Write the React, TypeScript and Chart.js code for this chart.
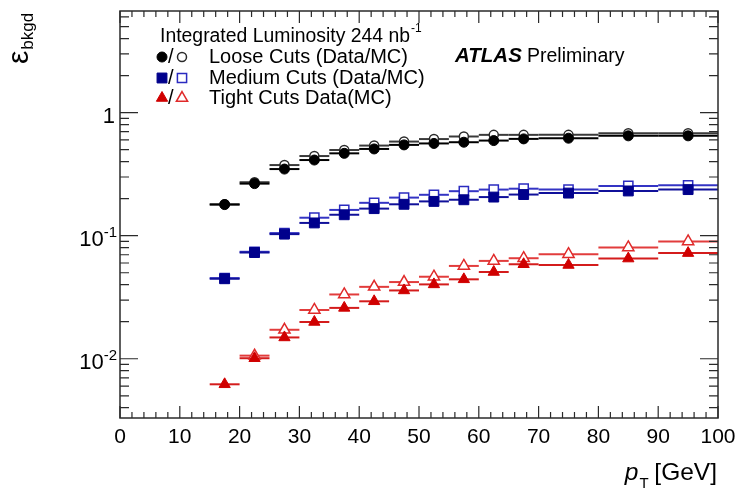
import React, { useEffect, useRef } from "react";
import { Chart, registerables } from "chart.js";

Chart.register(...registerables);

// ---- data ----
const binLow = [15, 20, 25, 30, 35, 40, 45, 50, 55, 60, 65, 70, 80, 90];
const binHigh = [20, 25, 30, 35, 40, 45, 50, 55, 60, 65, 70, 80, 90, 100];
const binCenter = [17.5, 22.5, 27.5, 32.5, 37.5, 42.5, 47.5, 52.5, 57.5, 62.5, 67.5, 75, 85, 95];

const looseData = [0.179, 0.265, 0.348, 0.412, 0.467, 0.507, 0.547, 0.562, 0.575, 0.593, 0.612, 0.62, 0.648, 0.648];
const looseMC = [0.18, 0.272, 0.375, 0.444, 0.497, 0.54, 0.582, 0.61, 0.64, 0.66, 0.66, 0.66, 0.68, 0.68];
const mediumData = [0.0447, 0.073, 0.103, 0.127, 0.148, 0.166, 0.18, 0.19, 0.196, 0.206, 0.216, 0.222, 0.231, 0.237];
const mediumMC = [0.0452, 0.074, 0.105, 0.14, 0.162, 0.185, 0.204, 0.215, 0.23, 0.237, 0.241, 0.237, 0.254, 0.257];
const tightData = [0.0062, 0.0101, 0.0149, 0.0199, 0.0259, 0.0293, 0.0359, 0.0402, 0.0442, 0.0507, 0.0586, 0.0578, 0.0652, 0.0722];
const tightMC = [null, 0.0106, 0.0172, 0.0249, 0.0333, 0.0384, 0.042, 0.0464, 0.0568, 0.0624, 0.0656, 0.0708, 0.0802, 0.0898];

const xMajorTicks = [0, 10, 20, 30, 40, 50, 60, 70, 80, 90, 100];
const xTickLabels = ["0", "10", "20", "30", "40", "50", "60", "70", "80", "90", "100"];
const yMajorTicks = [1, 0.1, 0.01];
const yTickBase = ["1", "10", "10"];
const yTickExp = ["", "-1", "-2"];

const lumiText = "Integrated Luminosity 244 nb";
const lumiExp = "-1";
const legendLabels = ["Loose Cuts (Data/MC)", "Medium Cuts (Data/MC)", "Tight Cuts Data(MC)"];
const atlasText = "ATLAS";
const prelimText = "Preliminary";
const xTitleMain = "p";
const xTitleSub = "T";
const xTitleUnit = " [GeV]";
const yTitleMain = "ε";
const yTitleSub = "bkgd";

// ---- styles ----
const FONT = '"Liberation Sans", Arial, Helvetica, sans-serif';
const f = (size: number, style = "") => `${style} ${size}px ${FONT}`.trim();

const C = {
  black: "#000000",
  blackMC: "#2a2a2a",
  blue: "#00008c",
  blueMC: "#2b2bc0",
  red: "#d00000",
  redMC: "#e02a2a",
  frame: "#2a2a2a",
};

type Marker = { style: string; r: number; fill: string; stroke: string; lw: number };

const markers: Marker[][] = [
  [
    { style: "circle", r: 5, fill: C.black, stroke: C.black, lw: 1 },
    { style: "circle", r: 4.5, fill: "#ffffff", stroke: C.blackMC, lw: 1.5 },
  ],
  [
    { style: "rect", r: 7, fill: C.blue, stroke: C.blue, lw: 1 },
    { style: "rect", r: 6.5, fill: "#ffffff", stroke: C.blueMC, lw: 1.5 },
  ],
  [
    { style: "triangle", r: 6.5, fill: C.red, stroke: C.red, lw: 1 },
    { style: "triangle", r: 6.5, fill: "#ffffff", stroke: C.redMC, lw: 1.5 },
  ],
];

function drawMarker(ctx: CanvasRenderingContext2D, m: Marker, x: number, y: number) {
  ctx.save();
  ctx.fillStyle = m.fill;
  ctx.strokeStyle = m.stroke;
  ctx.lineWidth = m.lw;
  ctx.beginPath();
  if (m.style === "circle") {
    ctx.arc(x, y, m.r, 0, Math.PI * 2);
  } else if (m.style === "rect") {
    const s = m.r * Math.SQRT1_2;
    ctx.rect(x - s, y - s, 2 * s, 2 * s);
  } else {
    let rad = 0;
    ctx.moveTo(x + Math.sin(rad) * m.r, y - Math.cos(rad) * m.r);
    rad += (2 * Math.PI) / 3;
    ctx.lineTo(x + Math.sin(rad) * m.r, y - Math.cos(rad) * m.r);
    rad += (2 * Math.PI) / 3;
    ctx.lineTo(x + Math.sin(rad) * m.r, y - Math.cos(rad) * m.r);
    ctx.closePath();
  }
  ctx.fill();
  ctx.stroke();
  ctx.restore();
}

function makeDataset(label: string, values: (number | null)[], m: Marker, errColor: string, order: number) {
  return {
    label,
    data: binCenter.map((x, i) => ({ x, y: values[i] })),
    showLine: false,
    pointStyle: m.style,
    pointRadius: m.r,
    pointHoverRadius: m.r,
    pointBackgroundColor: m.fill,
    pointBorderColor: m.stroke,
    pointBorderWidth: m.lw,
    errColor,
    order,
  };
}

const errorBarPlugin = {
  id: "errorBars",
  beforeDatasetsDraw(chart: any) {
    const { ctx, chartArea, scales } = chart;
    const xs = scales.x;
    const ys = scales.y;
    ctx.save();
    ctx.beginPath();
    ctx.rect(chartArea.left, chartArea.top, chartArea.right - chartArea.left, chartArea.bottom - chartArea.top);
    ctx.clip();
    const metas = chart.getSortedVisibleDatasetMetas().slice().reverse();
    for (const meta of metas) {
      const ds = chart.data.datasets[meta.index];
      ctx.strokeStyle = ds.errColor;
      ctx.lineWidth = 2;
      ds.data.forEach((p: any, i: number) => {
        if (p.y == null) return;
        const y = ys.getPixelForValue(p.y);
        ctx.beginPath();
        ctx.moveTo(xs.getPixelForValue(binLow[i]), y);
        ctx.lineTo(xs.getPixelForValue(binHigh[i]), y);
        ctx.stroke();
      });
    }
    ctx.restore();
  },
};

const framePlugin = {
  id: "rootFrame",
  afterDraw(chart: any) {
    const { ctx, chartArea } = chart;
    const { left, right, top, bottom } = chartArea;
    const xs = chart.scales.x;
    const ys = chart.scales.y;
    ctx.save();
    // frame
    ctx.strokeStyle = C.frame;
    ctx.lineWidth = 1.5;
    ctx.strokeRect(left, top, right - left, bottom - top);

    // x ticks
    ctx.lineWidth = 1.2;
    for (let v = 0; v <= 100; v += 2) {
      const x = xs.getPixelForValue(v);
      const len = v % 10 === 0 ? 12 : 6;
      ctx.beginPath();
      ctx.moveTo(x, bottom);
      ctx.lineTo(x, bottom - len);
      ctx.moveTo(x, top);
      ctx.lineTo(x, top + len);
      ctx.stroke();
    }
    // y ticks
    const yMin = ys.min;
    const yMax = ys.max;
    for (let e = -4; e <= 1; e++) {
      for (let k = 1; k <= 9; k++) {
        const v = k * Math.pow(10, e);
        if (v < yMin || v > yMax) continue;
        const y = ys.getPixelForValue(v);
        const len = k === 1 ? 18 : 9;
        ctx.beginPath();
        ctx.moveTo(left, y);
        ctx.lineTo(left + len, y);
        ctx.moveTo(right, y);
        ctx.lineTo(right - len, y);
        ctx.stroke();
      }
    }

    ctx.fillStyle = "#000";
    // x tick labels
    ctx.font = f(21);
    ctx.textAlign = "center";
    ctx.textBaseline = "alphabetic";
    xMajorTicks.forEach((v, i) => {
      ctx.fillText(xTickLabels[i], xs.getPixelForValue(v), bottom + 25);
    });

    // y tick labels
    const labelRight = 117;
    yMajorTicks.forEach((v, i) => {
      const y = ys.getPixelForValue(v);
      ctx.textAlign = "left";
      if (yTickExp[i]) {
        ctx.font = f(15);
        const ew = ctx.measureText(yTickExp[i]).width;
        ctx.fillText(yTickExp[i], labelRight - ew, y + 1);
        ctx.font = f(22);
        const bw = ctx.measureText(yTickBase[i]).width;
        ctx.fillText(yTickBase[i], labelRight - ew - bw, y + 10);
      } else {
        ctx.font = f(22);
        const bw = ctx.measureText(yTickBase[i]).width;
        ctx.fillText(yTickBase[i], labelRight - 2 - bw, y + 10);
      }
    });

    // x title
    ctx.textAlign = "left";
    ctx.font = f(24.5);
    const unitW = ctx.measureText(xTitleUnit).width;
    ctx.font = f(15);
    const subW = ctx.measureText(xTitleSub).width;
    ctx.font = f(24.5, "italic");
    const pW = ctx.measureText(xTitleMain).width;
    let tx = right - unitW - subW - pW - 1;
    const tBase = 480;
    ctx.fillText(xTitleMain, tx, tBase);
    tx += pW;
    ctx.font = f(15);
    ctx.fillText(xTitleSub, tx + 1, tBase + 8);
    tx += subW;
    ctx.font = f(24.5);
    ctx.fillText(xTitleUnit, tx, tBase);

    // y title (rotated)
    ctx.save();
    ctx.translate(28, 64);
    ctx.rotate(-Math.PI / 2);
    ctx.font = f(30);
    ctx.fillText(yTitleMain, 0, 0);
    const epsW = ctx.measureText(yTitleMain).width;
    ctx.font = f(17);
    ctx.fillText(yTitleSub, epsW + 1, 5);
    ctx.restore();

    // legend
    ctx.font = f(19.4);
    ctx.fillText(lumiText, 160, 42);
    const lw = ctx.measureText(lumiText).width;
    ctx.font = f(12);
    ctx.fillText(lumiExp, 160 + lw + 1, 32);

    const rows = [63, 84, 104];
    rows.forEach((base, i) => {
      const my = base - 6;
      drawMarker(ctx, markers[i][0], 162, my);
      ctx.fillStyle = "#000";
      ctx.font = f(20);
      ctx.fillText("/", 168, base);
      drawMarker(ctx, markers[i][1], 182, my);
      ctx.fillStyle = "#000";
      ctx.font = f(20);
      ctx.fillText(legendLabels[i], 209, base);
    });

    // ATLAS Preliminary
    ctx.font = f(20.5, "italic bold");
    ctx.fillText(atlasText, 455, 62);
    ctx.font = f(19.5);
    ctx.fillText(prelimText, 527, 62);

    ctx.restore();
  },
};

export default function App() {
  const canvasRef = useRef<HTMLCanvasElement | null>(null);

  useEffect(() => {
    const canvas = canvasRef.current;
    if (!canvas) return;
    const chart = new Chart(canvas, {
      type: "scatter",
      data: {
        datasets: [
          makeDataset("Loose Data", looseData, markers[0][0], C.black, 0),
          makeDataset("Loose MC", looseMC, markers[0][1], "#3a3a3a", 1),
          makeDataset("Medium Data", mediumData, markers[1][0], "#10109a", 0),
          makeDataset("Medium MC", mediumMC, markers[1][1], "#3434c4", 1),
          makeDataset("Tight Data", tightData, markers[2][0], "#d41c1c", 0),
          makeDataset("Tight MC", tightMC, markers[2][1], "#e23c3c", 1),
        ] as any,
      },
      options: {
        animation: false,
        responsive: false,
        devicePixelRatio: 1,
        layout: { padding: { left: 120, right: 24, top: 11, bottom: 72 } },
        plugins: { legend: { display: false }, tooltip: { enabled: false } },
        scales: {
          x: { type: "linear", min: 0, max: 100, display: false },
          y: { type: "logarithmic", min: 0.0033, max: 6.7, display: false },
        },
      },
      plugins: [errorBarPlugin, framePlugin],
    });
    return () => chart.destroy();
  }, []);

  return (
    <div style={{ position: "absolute", left: 0, top: 0, width: 742, height: 490, background: "#fff" }}>
      <canvas ref={canvasRef} width={742} height={490} style={{ display: "block" }} />
    </div>
  );
}
